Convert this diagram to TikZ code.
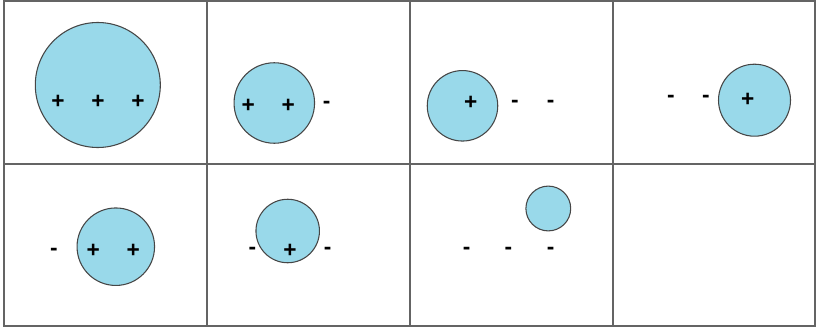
\documentclass[tikz,border=0pt]{standalone}
\usepackage{fontspec}
\setmainfont{Liberation Sans}
\definecolor{ballfill}{RGB}{153,217,234}
\definecolor{ballline}{RGB}{70,70,70}
\definecolor{gridline}{RGB}{100,100,100}
\begin{document}
\begin{tikzpicture}[x=0.75pt,y=-0.75pt,
  gridstyle/.style={draw=gridline,line width=1.5pt},
  ball/.style={circle,draw=ballline,fill=ballfill,line width=0.8pt,inner sep=0pt},
  plussign/.style={inner sep=0pt,anchor=base,font=\fontsize{17}{20}\selectfont\bfseries,yshift=-0.355*17pt},
  minussign/.style={inner sep=0pt,anchor=base,font=\fontsize{17}{20}\selectfont\bfseries,yshift=-0.26*17pt}]
\useasboundingbox (0,0) rectangle (816,328);
% grid
\draw[gridstyle] (4,1.5) rectangle (814.5,325.5);
\draw[gridstyle] (4,164) -- (814.5,164);
\draw[gridstyle] (207,1.5) -- (207,325.5);
\draw[gridstyle] (410,1.5) -- (410,325.5);
\draw[gridstyle] (613,1.5) -- (613,325.5);
% cell 1
\node[ball,minimum size=125*0.75pt] (c1) at (97.8,85) {};
\node[plussign] (c1p1) at (58,100) {+};
\node[plussign] (c1p2) at (98,100) {+};
\node[plussign] (c1p3) at (138,100) {+};
% cell 2
\node[ball,minimum size=80.5*0.75pt] (c2) at (274.3,103) {};
\node[plussign] (c2p1) at (248.3,104) {+};
\node[plussign] (c2p2) at (288.3,104) {+};
\node[minussign] (c2m1) at (326.7,102.7) {-};
% cell 3
\node[ball,minimum size=70.5*0.75pt] (c3) at (462.5,105.8) {};
\node[plussign] (c3p1) at (470.7,101.7) {+};
\node[minussign] (c3m1) at (515,101.7) {-};
\node[minussign] (c3m2) at (550.7,101.7) {-};
% cell 4
\node[ball,minimum size=72*0.75pt] (c4) at (754.5,100.2) {};
\node[plussign] (c4p1) at (747.7,98.3) {+};
\node[minussign] (c4m1) at (671,97) {-};
\node[minussign] (c4m2) at (706,97) {-};
% cell 5
\node[ball,minimum size=77.5*0.75pt] (c5) at (115.8,246.7) {};
\node[plussign] (c5p1) at (93.3,249.3) {+};
\node[plussign] (c5p2) at (133.3,249.3) {+};
\node[minussign] (c5m1) at (54,250) {-};
% cell 6
\node[ball,minimum size=63.5*0.75pt] (c6) at (287.7,231) {};
\node[plussign] (c6p1) at (290,249.3) {+};
\node[minussign] (c6m1) at (252.3,249) {-};
\node[minussign] (c6m2) at (327.7,249) {-};
% cell 7
\node[ball,minimum size=44.8*0.75pt] (c7) at (548.3,208.5) {};
\node[minussign] (c7m1) at (466.7,248.7) {-};
\node[minussign] (c7m2) at (508.3,248.7) {-};
\node[minussign] (c7m3) at (550.7,248.7) {-};
\end{tikzpicture}
\end{document}
